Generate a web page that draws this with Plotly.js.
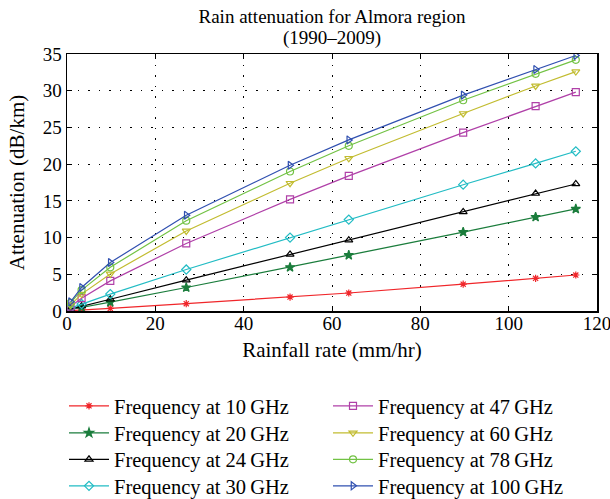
<!DOCTYPE html>
<html>
<head>
<meta charset="utf-8">
<script src="https://cdn.plot.ly/plotly-3.0.1.min.js"></script>
<style>html,body{margin:0;padding:0;background:#fff;}#chart{width:610px;height:499px;}</style>
</head>
<body>
<div id="chart"></div>
<script>
const rainRate = [0.8, 3.3, 9.8, 27, 50.5, 63.8, 89.7, 106.1, 115.2];
const att10 = [0.05, 0.12, 0.35, 1.0, 1.9, 2.45, 3.65, 4.45, 4.9];
const att20 = [0.2, 0.5, 1.2, 3.2, 5.95, 7.6, 10.75, 12.8, 13.9];
const att24 = [0.25, 0.65, 1.6, 4.2, 7.7, 9.65, 13.5, 16.0, 17.3];
const att30 = [0.4, 0.95, 2.3, 5.65, 10.0, 12.45, 17.2, 20.1, 21.75];
const att47 = [0.6, 1.75, 4.1, 9.2, 15.2, 18.4, 24.3, 27.9, 29.8];
const att60 = [0.8, 2.3, 5.05, 10.9, 17.4, 20.8, 26.9, 30.65, 32.6];
const att78 = [1.1, 2.85, 5.95, 12.3, 19.0, 22.5, 28.7, 32.3, 34.2];
const att100 = [1.25, 3.2, 6.6, 13.05, 19.85, 23.3, 29.4, 32.9, 34.8];
const seriesNames = ["Frequency at 10\u2009GHz","Frequency at 20\u2009GHz","Frequency at 24\u2009GHz","Frequency at 30\u2009GHz",
  "Frequency at 47\u2009GHz","Frequency at 60\u2009GHz","Frequency at 78\u2009GHz","Frequency at 100\u2009GHz"];
const seriesData = [att10, att20, att24, att30, att47, att60, att78, att100];
const colors = ["#f0262a","#1b7d3c","#000000","#22bcc4","#b040a8","#c2bc30","#72c244","#3050b0"];
const symbols = ["asterisk","star","triangle-up-open","diamond-open","square-open","triangle-down-open","circle-open","triangle-right-open"];

const font = "Liberation Serif, Times New Roman, serif";
const legendIds = ["legend","legend2","legend3","legend4","legend5","legend6","legend7","legend8"];
const traces = seriesData.map((d, i) => ({
  x: rainRate, y: d, name: seriesNames[i], type: "scatter", mode: "lines+markers",
  line: {color: colors[i], width: 1.2},
  marker: {symbol: symbols[i], size: i === 0 ? 6 : 7, color: colors[i], line: {color: colors[i], width: 1.2}},
  legend: legendIds[i]
}));

// plot area: x 67..597 px, y 54..311 px
const pxX = p => (p - 67) / 530;
const pxY = p => (311 - p) / 257;
const rowY = [406, 433, 459.5, 486];
const colX = [64, 328];

const layout = {
  width: 610, height: 499,
  margin: {l: 67, r: 13, t: 54, b: 188, autoexpand: false},
  paper_bgcolor: "#fff", plot_bgcolor: "#fff",
  font: {family: font, size: 19, color: "#000"},
  title: {text: "Rain attenuation for Almora region", font: {family: font, size: 19, color: "#000"},
    x: 0.5, xref: "paper", xanchor: "center", y: 1 - 16.5/499, yanchor: "middle"},
  annotations: [{text: "(1990\u20132009)", xref: "paper", yref: "paper", x: 0.5, y: pxY(37.5),
    xanchor: "center", yanchor: "middle", showarrow: false, font: {family: font, size: 19, color: "#000"}}],
  xaxis: {
    range: [0, 120], tickvals: [0,20,40,60,80,100,120], ticks: "inside", ticklen: 5, tickcolor: "#000",
    showline: true, linecolor: "#000", linewidth: 1.5, mirror: "allticks", ticklabeloverflow: "allow",
    ticklabelstandoff: -5,
    showgrid: true, gridcolor: "#000", griddash: "1.5px,9px", gridwidth: 1, zeroline: false,
    tickfont: {family: font, size: 19}, title: {text: "Rainfall rate (mm/hr)", font: {family: font, size: 21}, standoff: 9}
  },
  yaxis: {
    range: [0, 35], tickvals: [0,5,10,15,20,25,30,35], ticks: "inside", ticklen: 5, tickcolor: "#000",
    showline: true, linecolor: "#000", linewidth: 1.5, mirror: "allticks", ticklabeloverflow: "allow",
    showgrid: true, gridcolor: "#000", griddash: "1.5px,9px", gridwidth: 1, zeroline: false,
    tickfont: {family: font, size: 19}, title: {text: "Attenuation (dB/km)", font: {family: font, size: 21}, standoff: 12}
  },
  showlegend: true
};
legendIds.forEach((id, i) => {
  layout[id] = {
    font: {family: font, size: 20.5, color: "#000"},
    bgcolor: "rgba(0,0,0,0)", borderwidth: 0, itemwidth: 40,
    x: pxX(colX[Math.floor(i / 4)]), y: pxY(rowY[i % 4]),
    xanchor: "left", yanchor: "middle"
  };
});

Plotly.newPlot("chart", traces, layout, {staticPlot: true, displayModeBar: false});
</script>
</body>
</html>
